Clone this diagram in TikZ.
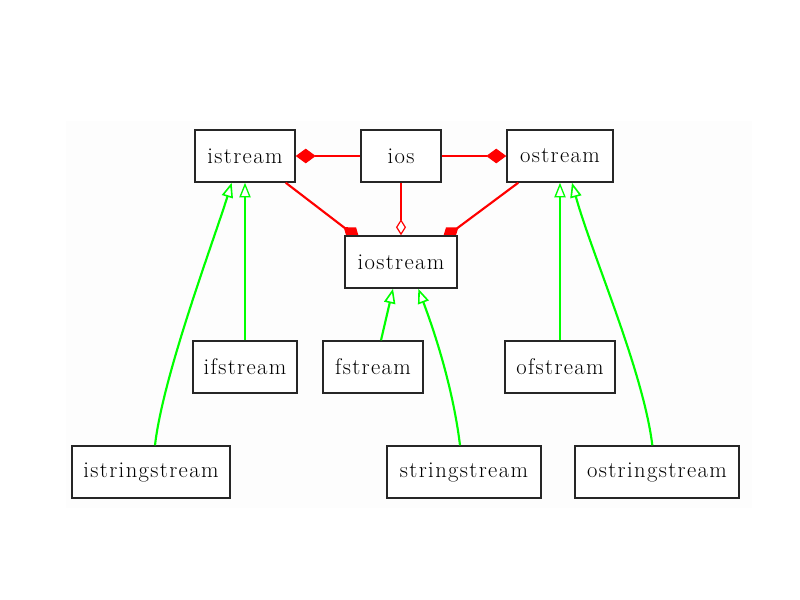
\documentclass[tikz,border=0pt]{standalone}
\usepackage{fontspec}
\setmainfont{Latin Modern Roman}[LetterSpace=6]
\usetikzlibrary{arrows.meta,calc}
\definecolor{bgtint}{HTML}{FDFDFD}
\definecolor{umlred}{HTML}{FF0000}
\definecolor{umlgreen}{HTML}{00FF00}
\tikzset{
  cls/.style={draw=black!85, line width=1.1pt, fill=white, minimum height=52*0.75pt, inner sep=0pt, font=\fontsize{17}{20}\selectfont},
  comp/.style={draw=umlred, line width=0.9pt, -{Diamond[length=15pt,width=11pt]}},
  compthick/.style={draw=umlred, line width=1.6pt, -{Diamond[length=15pt,width=11pt]}, shorten >=-5pt},
  aggr/.style={draw=umlred, line width=0.9pt, -{Diamond[open,length=12pt,width=7.5pt,fill=white]}},
  inh/.style={draw=umlgreen, line width=0.9pt, -{Triangle[open,length=11pt,width=8.5pt,fill=white,line width=1pt]}},
  inhthick/.style={draw=umlgreen, line width=1.6pt, -{Triangle[open,length=11pt,width=8.5pt,fill=white,line width=1.2pt]}},
}
\begin{document}
\begin{tikzpicture}[x=0.75pt,y=-0.75pt]
\useasboundingbox (0,0) rectangle (800,600);
\fill[white] (0,0) rectangle (800,600);
\fill[bgtint] (66,121) rectangle (752,508);
% nodes
\node[cls, minimum width=100*0.75pt] (istream) at (245,156) {istream};
\node[cls, minimum width=80*0.75pt] (ios) at (401,156) {ios};
\node[cls, minimum width=106*0.75pt] (ostream) at (560,156) {ostream};
\node[cls, minimum width=112*0.75pt] (iostream) at (401,262) {iostream};
\node[cls, minimum width=104*0.75pt] (ifstream) at (245,367) {ifstream};
\node[cls, minimum width=100*0.75pt] (fstream) at (373,367) {fstream};
\node[cls, minimum width=110*0.75pt] (ofstream) at (560,367) {ofstream};
\node[cls, minimum width=158*0.75pt] (istringstream) at (151,472) {istringstream};
\node[cls, minimum width=154*0.75pt] (stringstream) at (464,472) {stringstream};
\node[cls, minimum width=164*0.75pt] (ostringstream) at (657,472) {ostringstream};
% red associations
\draw[comp] (ios.west) -- (istream.east);
\draw[comp] (ios.east) -- (ostream.west);
\draw[aggr] (ios.south) -- (iostream.north);
\draw[compthick] ([xshift=-7.5pt]istream.south east) -- ([xshift=7.5pt]iostream.north west);
\draw[compthick] ([xshift=9pt]ostream.south west) -- ([xshift=-7.5pt]iostream.north east);
% green generalisations
\draw[inh] (ifstream.north) -- (istream.south);
\draw[inh] (ofstream.north) -- (ostream.south);
\draw[inhthick] ([xshift=6pt]fstream.north) -- ([xshift=-6pt]iostream.south);
\draw[inhthick] ([xshift=3pt]istringstream.north) .. controls (163,375) and (214,240) .. ([xshift=-10pt]istream.south);
\draw[inhthick] ([xshift=-3pt]stringstream.north) .. controls (452,380) and (430,320) .. ([xshift=13pt]iostream.south);
\draw[inhthick] ([xshift=-3.5pt]ostringstream.north) .. controls (643,370) and (592,255) .. ([xshift=9pt]ostream.south);
% redraw iostream on top to clip the diamond tips
\node[cls, minimum width=112*0.75pt] at (401,262) {iostream};
\end{tikzpicture}
\end{document}
